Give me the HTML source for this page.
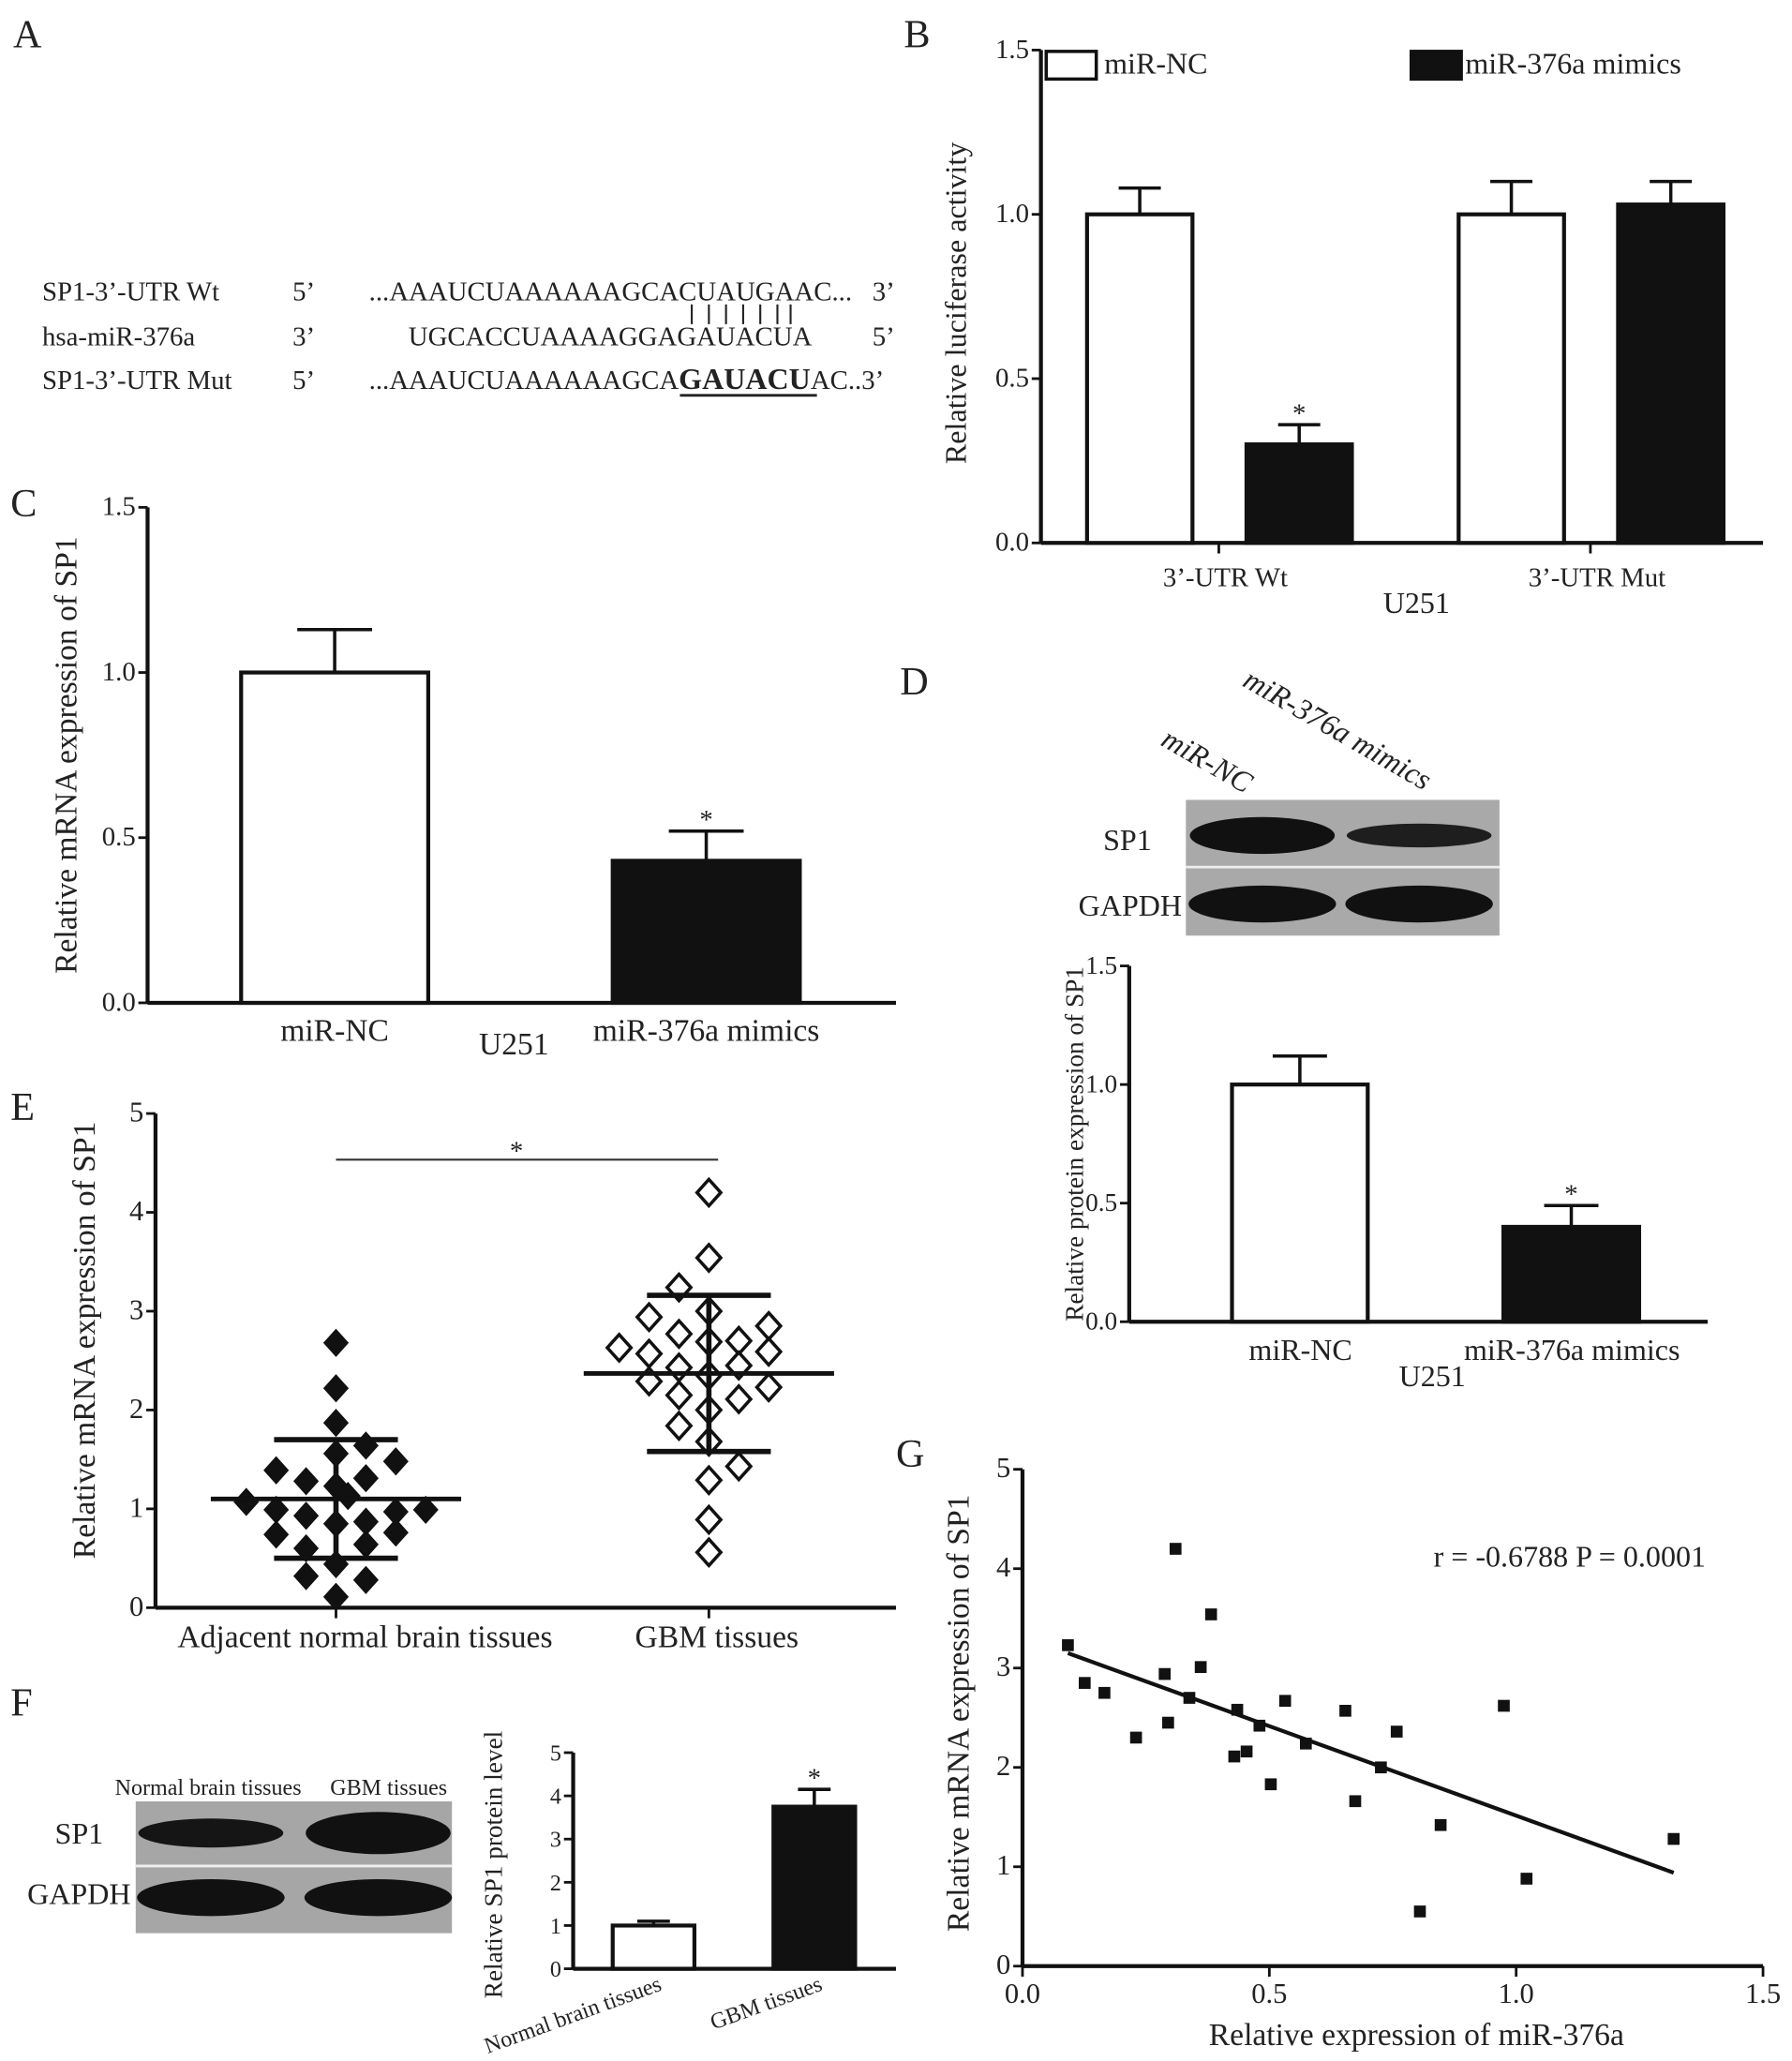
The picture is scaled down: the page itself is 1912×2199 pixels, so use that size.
<!DOCTYPE html>
<html><head><meta charset="utf-8"><style>
html,body{margin:0;padding:0;background:#fff;}
svg{display:block;font-family:"Liberation Serif",serif;}
</style></head><body>
<svg id="fig" width="1912" height="2199" viewBox="0 0 1360 1564" preserveAspectRatio="none" xmlns="http://www.w3.org/2000/svg">
<g id="letters" font-size="30" fill="#222">
<text x="10" y="36">A</text>
<text x="686" y="36">B</text>
<text x="8" y="392">C</text>
<text x="683" y="527">D</text>
<text x="8" y="850">E</text>
<text x="8" y="1302">F</text>
<text x="680" y="1113">G</text>
</g>
<g font-size="18" fill="#222">
<text x="32" y="228">SP1-3’-UTR Wt</text>
<text x="32" y="262">hsa-miR-376a</text>
<text x="32" y="295">SP1-3’-UTR Mut</text>
<text x="222" y="228">5’</text><text x="222" y="262">3’</text><text x="222" y="295">5’</text>
<text x="280" y="228">...AAAUCUAAAAAAGCACUAUGAAC...</text>
<text x="310" y="262">UGCACCUAAAAGGAGAUACUA</text>
<text x="280" y="295">...AAAUCUAAAAAAGCA<tspan font-weight="bold" font-size="20">GAUACU</tspan>AC..3’</text>
<text x="662" y="228">3’</text><text x="662" y="262">5’</text>
<g stroke="#222" stroke-width="1.5">
<line x1="525" y1="231" x2="525" y2="246"/><line x1="538" y1="231" x2="538" y2="246"/><line x1="551" y1="231" x2="551" y2="246"/><line x1="564" y1="231" x2="564" y2="246"/><line x1="577" y1="231" x2="577" y2="246"/><line x1="590" y1="231" x2="590" y2="246"/><line x1="600" y1="231" x2="600" y2="246"/>
<line x1="516" y1="300" x2="620" y2="300" stroke-width="2"/>
</g>
</g>
<g id="charts"></g>
</svg>
<script>
// ===== Chart data =====
const bGroups = ["3’-UTR Wt", "3’-UTR Mut"];
const bNC = [1.0, 1.0];
const bNCerr = [0.08, 0.10];
const bMim = [0.30, 1.03];
const bMimErr = [0.06, 0.07];
const bTicks = [0.0, 0.5, 1.0, 1.5];
const cCats = ["miR-NC", "miR-376a mimics"];
const cVals = [1.0, 0.43];
const cErr = [0.13, 0.09];
const cTicks = [0.0, 0.5, 1.0, 1.5];
const dCats = ["miR-NC", "miR-376a mimics"];
const dVals = [1.0, 0.40];
const dErr = [0.12, 0.09];
const dTicks = [0.0, 0.5, 1.0, 1.5];
const eCats = ["Adjacent normal brain tissues", "GBM tissues"];
const eNormalVals = [2.68,2.22,1.87,1.56,1.64,1.48,1.39,1.28,1.31,1.23,1.13,1.07,0.99,0.99,0.97,0.93,0.85,0.87,0.74,0.76,0.64,0.60,0.44,0.32,0.28,0.11];
const eNormalJitter = [0,0,0,0,1,2,-2,-1,1,0,0.4,-3,-2,3,2,-1,0,1,-2,2,1,-1,0,-1,1,0];
const eGbmVals = [4.2,3.54,3.24,3.0,2.94,2.85,2.77,2.69,2.7,2.63,2.57,2.59,2.43,2.45,2.35,2.29,2.23,2.15,2.11,2.0,1.84,1.68,1.43,1.29,0.89,0.56];
const eGbmJitter = [0,0,-1,0,-2,2,-1,0,1,-3,-2,2,-1,1,0,-2,2,-1,1,0,-1,0,1,0,0,0];
const eMean = [1.1, 2.37];
const eSD = [0.6, 0.79];
const eTicks = [0,1,2,3,4,5];
const fCats = ["Normal brain tissues", "GBM tissues"];
const fVals = [1.0, 3.75];
const fErr = [0.1, 0.4];
const fTicks = [0,1,2,3,4,5];
const gX = [0.092,0.126,0.166,0.230,0.288,0.295,0.31,0.338,0.361,0.382,0.435,0.429,0.454,0.480,0.503,0.532,0.574,0.654,0.674,0.726,0.758,0.805,0.847,0.975,1.021,1.319];
const gY = [3.23,2.85,2.75,2.30,2.94,2.45,4.20,2.70,3.01,3.54,2.58,2.11,2.16,2.42,1.83,2.67,2.24,2.57,1.66,2.00,2.36,0.55,1.42,2.62,0.88,1.28];
const gFitX = [0.092, 1.319];
const gFitY = [3.15, 0.94];
const gXTicks = ["0.0","0.5","1.0","1.5"];
const gYTicks = [0,1,2,3,4,5];

const NS = "http://www.w3.org/2000/svg";
const root = document.getElementById("charts");
function mk(tag, attrs, parent, txt) {
  const e = document.createElementNS(NS, tag);
  for (const k in attrs) e.setAttribute(k, attrs[k]);
  if (txt !== undefined) e.textContent = txt;
  (parent || root).appendChild(e);
  return e;
}
function lin(d0, d1, r0, r1) { return v => r0 + (v - d0) * (r1 - r0) / (d1 - d0); }

function axes(g, x0, x1, yTop, yBot, ys, ticks, fmt, fs) {
  mk("line", {x1:x0, y1:yTop, x2:x0, y2:yBot, stroke:"#111", "stroke-width":3}, g);
  mk("line", {x1:x0, y1:yBot, x2:x1, y2:yBot, stroke:"#111", "stroke-width":3}, g);
  ticks.forEach(t => {
    const y = ys(t);
    mk("line", {x1:x0-7, y1:y, x2:x0, y2:y, stroke:"#111", "stroke-width":2}, g);
    const tx = mk("text", {x:x0-9, y:y+6, "text-anchor":"end", "font-size":fs, fill:"#222"}, g, fmt(t));
    
    
  });
}
function bar(g, x, w, v, e, ys, black, star) {
  const yb = ys(0), yv = ys(v), ye = ys(v + e);
  const cx = x + w / 2;
  mk("line", {x1:cx, y1:yv, x2:cx, y2:ye, stroke:"#111", "stroke-width":2.5}, g);
  mk("line", {x1:cx-w*0.2, y1:ye, x2:cx+w*0.2, y2:ye, stroke:"#111", "stroke-width":2.5}, g);
  const r = mk("rect", {x:x, y:yv, width:w, height:yb-yv, fill:black?"#111":"#fff", stroke:"#111", "stroke-width":3}, g);
  
  
  if (star) mk("text", {x:cx, y:ye-2, "text-anchor":"middle", "font-size":18, fill:"#222"}, g, "*");
}
function ylabel(g, x, y, txt, fs) {
  const t = mk("text", {x:0, y:0, transform:`translate(${x},${y}) rotate(-90)`, "text-anchor":"middle", "font-size":fs, fill:"#222"}, g, txt);
  
  
}
const f1 = t => t.toFixed(1);

// Panel B
{
  const g = mk("g", {});
  
  
  const ys = lin(0, 1.5, 412, 38);
  axes(g, 790, 1338, 38, 412, ys, bTicks, f1, 18);
  const gx = [825, 1107];
  bGroups.forEach((c, i) => {
    bar(g, gx[i], 80, bNC[i], bNCerr[i], ys, false, false);
    bar(g, gx[i] + 121, 80, bMim[i], bMimErr[i], ys, true, i === 0);
    const cx = gx[i] + 100;
    mk("line", {x1:cx, y1:412, x2:cx, y2:420, stroke:"#111", "stroke-width":2}, g);
    const t = mk("text", {x:cx+5, y:445, "text-anchor":"middle", "font-size":18, fill:"#222"}, g, c);
    
    
  });
  mk("text", {x:1075, y:465, "text-anchor":"middle", "font-size":20, fill:"#222"}, g, "U251");
  ylabel(g, 733, 230, "Relative luciferase activity", 20);
  const l1 = mk("rect", {x:794, y:39, width:38, height:21, fill:"#fff", stroke:"#111", "stroke-width":2.5}, g);
   
  mk("text", {x:838, y:56, "font-size":20, fill:"#222"}, g, "miR-NC");
  const l2 = mk("rect", {x:1071, y:39, width:38, height:21, fill:"#111", stroke:"#111", "stroke-width":2.5}, g);
   
  mk("text", {x:1112, y:56, "font-size":20, fill:"#222"}, g, "miR-376a mimics");
}
// Panel C
{
  const g = mk("g", {});
  
  
  const ys = lin(0, 1.5, 761, 385);
  axes(g, 112, 680, 385, 761, ys, cTicks, f1, 18);
  const xs = [183, 465];
  cCats.forEach((c, i) => {
    bar(g, xs[i], 142, cVals[i], cErr[i], ys, i === 1, i === 1);
    const t = mk("text", {x:xs[i]+71, y:790, "text-anchor":"middle", "font-size":21, fill:"#222"}, g, c);
    
    
  });
  mk("text", {x:390, y:800, "text-anchor":"middle", "font-size":21, fill:"#222"}, g, "U251");
  ylabel(g, 58, 573, "Relative mRNA expression of SP1", 21);
}
// Panel D
{
  const g = mk("g", {});
  
  
  const bl = mk("rect", {x:900, y:607, width:238, height:103, fill:"#a9a9a9"}, g);
   
  mk("line", {x1:900, y1:658, x2:1138, y2:658, stroke:"#eee", "stroke-width":2}, g);
  mk("ellipse", {cx:958, cy:634, rx:55, ry:14, fill:"#111"}, g);
  mk("ellipse", {cx:1077, cy:634, rx:55, ry:9, fill:"#1e1e1e"}, g);
  mk("ellipse", {cx:958, cy:686, rx:56, ry:14, fill:"#111"}, g);
  mk("ellipse", {cx:1077, cy:686, rx:56, ry:14, fill:"#111"}, g);
  mk("text", {x:874, y:645, "text-anchor":"end", "font-size":20, fill:"#222"}, g, "SP1");
  mk("text", {x:897, y:695, "text-anchor":"end", "font-size":20, fill:"#222"}, g, "GAPDH");
  mk("text", {x:0, y:0, transform:"translate(880,565) rotate(30)", "font-size":20, "font-style":"italic", fill:"#222"}, g, "miR-NC");
  mk("text", {x:0, y:0, transform:"translate(942,520) rotate(30)", "font-size":20, "font-style":"italic", fill:"#222"}, g, "miR-376a mimics");
  const ys = lin(0, 1.5, 1003, 733);
  axes(g, 857, 1296, 733, 1003, ys, dTicks, f1, 17);
  const xs = [935, 1141];
  dCats.forEach((c, i) => {
    bar(g, xs[i], 103, dVals[i], dErr[i], ys, i === 1, i === 1);
    const t = mk("text", {x:xs[i]+52, y:1032, "text-anchor":"middle", "font-size":20, fill:"#222"}, g, c);
    
    
  });
  mk("text", {x:1087, y:1052, "text-anchor":"middle", "font-size":20, fill:"#222"}, g, "U251");
  ylabel(g, 822, 868, "Relative protein expression of SP1", 17);
}
// Panel E
{
  const g = mk("g", {});
  
  
  const ys = lin(0, 5, 1220, 845);
  axes(g, 118, 680, 845, 1220, ys, eTicks, t => String(t), 19);
  const cx = [255, 538];
  const jw = 22.7;
  eCats.forEach((c, i) => {
    mk("line", {x1:cx[i], y1:1220, x2:cx[i], y2:1228, stroke:"#111", "stroke-width":2}, g);
    const t = mk("text", {x:i===0?277:544, y:1250, "text-anchor":"middle", "font-size":21, fill:"#222"}, g, c);
    
    
  });
  const dia = (x, y, filled) => {
    const p = mk("polygon", {points:`${x},${y-10} ${x+9},${y} ${x},${y+10} ${x-9},${y}`, fill:filled?"#111":"#fff", stroke:"#111", "stroke-width":filled?1:2.5}, g);
    
    
  };
  eGbmVals.forEach((v, k) => dia(cx[1] + eGbmJitter[k]*jw, ys(v), false));
  eNormalVals.forEach((v, k) => dia(cx[0] + eNormalJitter[k]*jw, ys(v), true));
  [0,1].forEach(i => {
    const m = eMean[i], s = eSD[i];
    mk("line", {x1:cx[i], y1:ys(m+s), x2:cx[i], y2:ys(m-s), stroke:"#111", "stroke-width":4}, g);
    mk("line", {x1:cx[i]-95, y1:ys(m), x2:cx[i]+95, y2:ys(m), stroke:"#111", "stroke-width":3.5}, g);
    mk("line", {x1:cx[i]-47, y1:ys(m+s), x2:cx[i]+47, y2:ys(m+s), stroke:"#111", "stroke-width":4}, g);
    mk("line", {x1:cx[i]-47, y1:ys(m-s), x2:cx[i]+47, y2:ys(m-s), stroke:"#111", "stroke-width":4}, g);
  });
  mk("line", {x1:255, y1:880, x2:545, y2:880, stroke:"#333", "stroke-width":1.5}, g);
  mk("text", {x:392, y:880, "text-anchor":"middle", "font-size":18, fill:"#222"}, g, "*");
  ylabel(g, 72, 1017, "Relative mRNA expression of SP1", 21);
}
// Panel F
{
  const g = mk("g", {});
  
  
  const bl = mk("rect", {x:103, y:1367, width:240, height:100, fill:"#a6a6a6"}, g);
   
  mk("line", {x1:103, y1:1416, x2:343, y2:1416, stroke:"#eee", "stroke-width":2}, g);
  mk("ellipse", {cx:160, cy:1391, rx:55, ry:11, fill:"#151515"}, g);
  mk("ellipse", {cx:287, cy:1391, rx:55, ry:16, fill:"#111"}, g);
  mk("ellipse", {cx:160, cy:1440, rx:56, ry:14, fill:"#111"}, g);
  mk("ellipse", {cx:287, cy:1440, rx:56, ry:14, fill:"#111"}, g);
  mk("text", {x:158, y:1362, "text-anchor":"middle", "font-size":15, fill:"#222"}, g, "Normal brain tissues");
  mk("text", {x:295, y:1362, "text-anchor":"middle", "font-size":15, fill:"#222"}, g, "GBM tissues");
  mk("text", {x:60, y:1399, "text-anchor":"middle", "font-size":20, fill:"#222"}, g, "SP1");
  mk("text", {x:60, y:1445, "text-anchor":"middle", "font-size":20, fill:"#222"}, g, "GAPDH");
  const ys = lin(0, 5, 1494, 1330);
  axes(g, 435, 680, 1330, 1494, ys, fTicks, t => String(t), 15);
  const xs = [465, 587];
  fCats.forEach((c, i) => {
    bar(g, xs[i], 62, fVals[i], fErr[i], ys, i === 1, i === 1);
    const t = mk("text", {x:0, y:0, transform:`translate(${xs[i]+38},${1510}) rotate(-20)`, "text-anchor":"end", "font-size":15, fill:"#222"}, g, c);
    
    
  });
  ylabel(g, 381, 1415, "Relative SP1 protein level", 17);
}
// Panel G
{
  const g = mk("g", {});
  
  
  const xs = lin(0, 1.5, 776, 1338), ys = lin(0, 5, 1492, 1115);
  axes(g, 776, 1338, 1115, 1492, ys, gYTicks, t => String(t), 19);
  gXTicks.forEach(t => {
    const x = xs(parseFloat(t));
    mk("line", {x1:x, y1:1492, x2:x, y2:1500, stroke:"#111", "stroke-width":2}, g);
    const tx = mk("text", {x:x, y:1520, "text-anchor":"middle", "font-size":19, fill:"#222"}, g, t);
    
    
  });
  gX.forEach((v, k) => {
    const r = mk("rect", {x:xs(v)-4.5, y:ys(gY[k])-4.5, width:9, height:9, fill:"#111"}, g);
    
    
  });
  const fl = mk("line", {x1:xs(gFitX[0]), y1:ys(gFitY[0]), x2:xs(gFitX[1]), y2:ys(gFitY[1]), stroke:"#111", "stroke-width":3}, g);
   
  mk("text", {x:1088, y:1189, "font-size":20, fill:"#222"}, g, "r = -0.6788 P = 0.0001");
  mk("text", {x:1075, y:1552, "text-anchor":"middle", "font-size":21, fill:"#222"}, g, "Relative expression of miR-376a");
  ylabel(g, 735, 1300, "Relative mRNA expression of SP1", 21);
}
// Enlarge text to match reference glyph widths
document.querySelectorAll("#fig text, #fig tspan").forEach(t => {
  if (t.closest("#letters")) return;
  const fs = parseFloat(t.getAttribute("font-size") || (t.tagName === "text" ? 18 : 0));
  if (fs) t.setAttribute("font-size", (fs * 1.14).toFixed(1));
});
</script>
</body></html>
